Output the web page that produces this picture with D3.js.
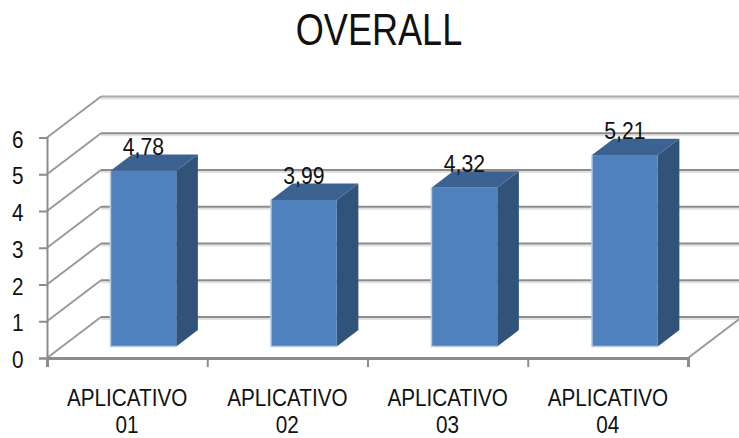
<!DOCTYPE html>
<html>
<head>
<meta charset="utf-8">
<script src="https://cdn.jsdelivr.net/npm/d3@7"></script>
<style>
  body { margin: 0; background: #fff; }
  text { font-family: "Liberation Sans", Arial, sans-serif; fill: #111; }
</style>
</head>
<body>
<script>
const categories = ['APLICATIVO 01', 'APLICATIVO 02', 'APLICATIVO 03', 'APLICATIVO 04']
const values = [4.78, 3.99, 4.32, 5.21]
const yTicks = [0, 1, 2, 3, 4, 5, 6]
const valueLabels = ['4,78', '3,99', '4,32', '5,21']

const width = 739
const height = 438
const left = 47
const right = 688
const bottom = 358
const top6 = 137.5

// the floor recedes by this much at full depth
const depthX = 54
const depthY = 41
const barNear = 0.28
const barFar = 0.68

// all text is set a little narrower than the font's natural width
const narrow = 0.9

const x = d3.scaleBand().domain(categories).range([48, 690]).paddingInner(0.59).paddingOuter(0.295)
const xEdge = d3.scaleLinear().domain([0, categories.length]).range([left, right])
const y = d3.scaleLinear().domain([0, 6]).range([bottom, top6])

const px = (cx, d) => cx + depthX * d
const py = (v, d) => y(v) - depthY * d

const svg = d3.select('body').append('svg')
  .attr('width', width)
  .attr('height', height)
  .style('display', 'block')

svg.append('text')
  .attr('transform', 'translate(379,45) scale(0.82,1)')
  .attr('text-anchor', 'middle')
  .style('font-size', '44px')
  .text('OVERALL')

// back wall and side wall gridlines
const grid = svg.append('g')
yTicks.forEach(v => {
  grid.append('line')
    .attr('x1', px(left, 1)).attr('x2', width)
    .attr('y1', py(v, 1) + 2).attr('y2', py(v, 1) + 2)
    .style('stroke', '#e2e2e2').style('stroke-width', 2)
  grid.append('line')
    .attr('x1', px(left, 1)).attr('x2', width)
    .attr('y1', py(v, 1)).attr('y2', py(v, 1))
    .style('stroke', v === 6 ? '#aaa' : '#8c8c8c').style('stroke-width', 2)
  grid.append('line')
    .attr('x1', left).attr('y1', py(v, 0))
    .attr('x2', px(left, 1)).attr('y2', py(v, 1))
    .style('stroke', '#9a9a9a').style('stroke-width', 2)
})
grid.append('line')
  .attr('x1', right).attr('y1', py(0, 0))
  .attr('x2', px(right, 1)).attr('y2', py(0, 1))
  .style('stroke', '#9a9a9a').style('stroke-width', 2)

// axes
const yAxis = d3.axisLeft(y).tickValues(yTicks).tickSize(8).tickPadding(18).tickFormat(d3.format('d'))
const gy = svg.append('g').attr('transform', `translate(${left},0)`).call(yAxis)
gy.selectAll('text')
  .attr('dy', '9.5px')
  .attr('transform', `scale(${narrow},1)`)
  .style('font-size', '23px')
const xAxis = d3.axisBottom(xEdge).tickValues(d3.range(categories.length + 1)).tickSize(9).tickFormat('')
const gx = svg.append('g').attr('transform', `translate(0,${bottom})`).call(xAxis)
svg.selectAll('.domain, .tick line').style('stroke', '#8c8c8c')
gy.select('.domain').style('stroke-width', 2)
gy.selectAll('.tick line').style('stroke-width', 2)
gx.select('.domain').style('stroke-width', 3)
gx.selectAll('.tick line').style('stroke-width', 2)

// bars: side, top, then front face
const bars = svg.selectAll('.bar')
  .data(categories)
  .enter().append('g')
  .attr('class', 'bar')

const poly = pts => pts.map(p => p.join(',')).join(' ')

bars.append('polygon')
  .attr('points', (c, i) => {
    const r = x(c) + x.bandwidth()
    return poly([
      [px(r, barNear), py(values[i], barNear)],
      [px(r, barFar), py(values[i], barFar)],
      [px(r, barFar), py(0, barFar)],
      [px(r, barNear), py(0, barNear)]
    ])
  })
  .style('fill', '#315379')

bars.append('polygon')
  .attr('points', (c, i) => {
    const l = x(c)
    const r = l + x.bandwidth()
    return poly([
      [px(l, barNear), py(values[i], barNear)],
      [px(l, barFar), py(values[i], barFar)],
      [px(r, barFar), py(values[i], barFar)],
      [px(r, barNear), py(values[i], barNear)]
    ])
  })
  .style('fill', '#3b6291')

bars.append('rect')
  .attr('x', c => px(x(c), barNear))
  .attr('y', (c, i) => py(values[i], barNear))
  .attr('width', x.bandwidth())
  .attr('height', (c, i) => y(0) - y(values[i]))
  .style('fill', '#4f81bd')

// pale rim on the left and bottom of the front face
bars.append('path')
  .attr('d', (c, i) => {
    const l = px(x(c), barNear)
    const b = py(0, barNear)
    return `M${l},${py(values[i], barNear)}V${b}H${l + x.bandwidth()}`
  })
  .style('fill', 'none')
  .style('stroke', '#b9cde5')
  .style('stroke-width', 1.5)

bars.append('text')
  .attr('transform', (c, i) => {
    const cx = px(x(c) + x.bandwidth() / 2, barNear)
    return `translate(${cx},${py(values[i], barNear) - 16}) scale(${narrow},1)`
  })
  .attr('text-anchor', 'middle')
  .style('font-size', '23.5px')
  .text((c, i) => valueLabels[i])

// category labels wrap onto two lines, centred on each axis interval
const catLabels = svg.selectAll('.cat')
  .data(categories)
  .enter().append('text')
  .attr('class', 'cat')
  .attr('text-anchor', 'middle')
  .attr('transform', (c, i) => `translate(${xEdge(i + 0.5)},406) scale(${narrow},1)`)
  .style('font-size', '23px')

catLabels.selectAll('tspan')
  .data(c => c.split(' '))
  .enter().append('tspan')
  .attr('x', 0)
  .attr('dy', (d, i) => i ? 27 : 0)
  .text(d => d)
</script>
</body>
</html>
